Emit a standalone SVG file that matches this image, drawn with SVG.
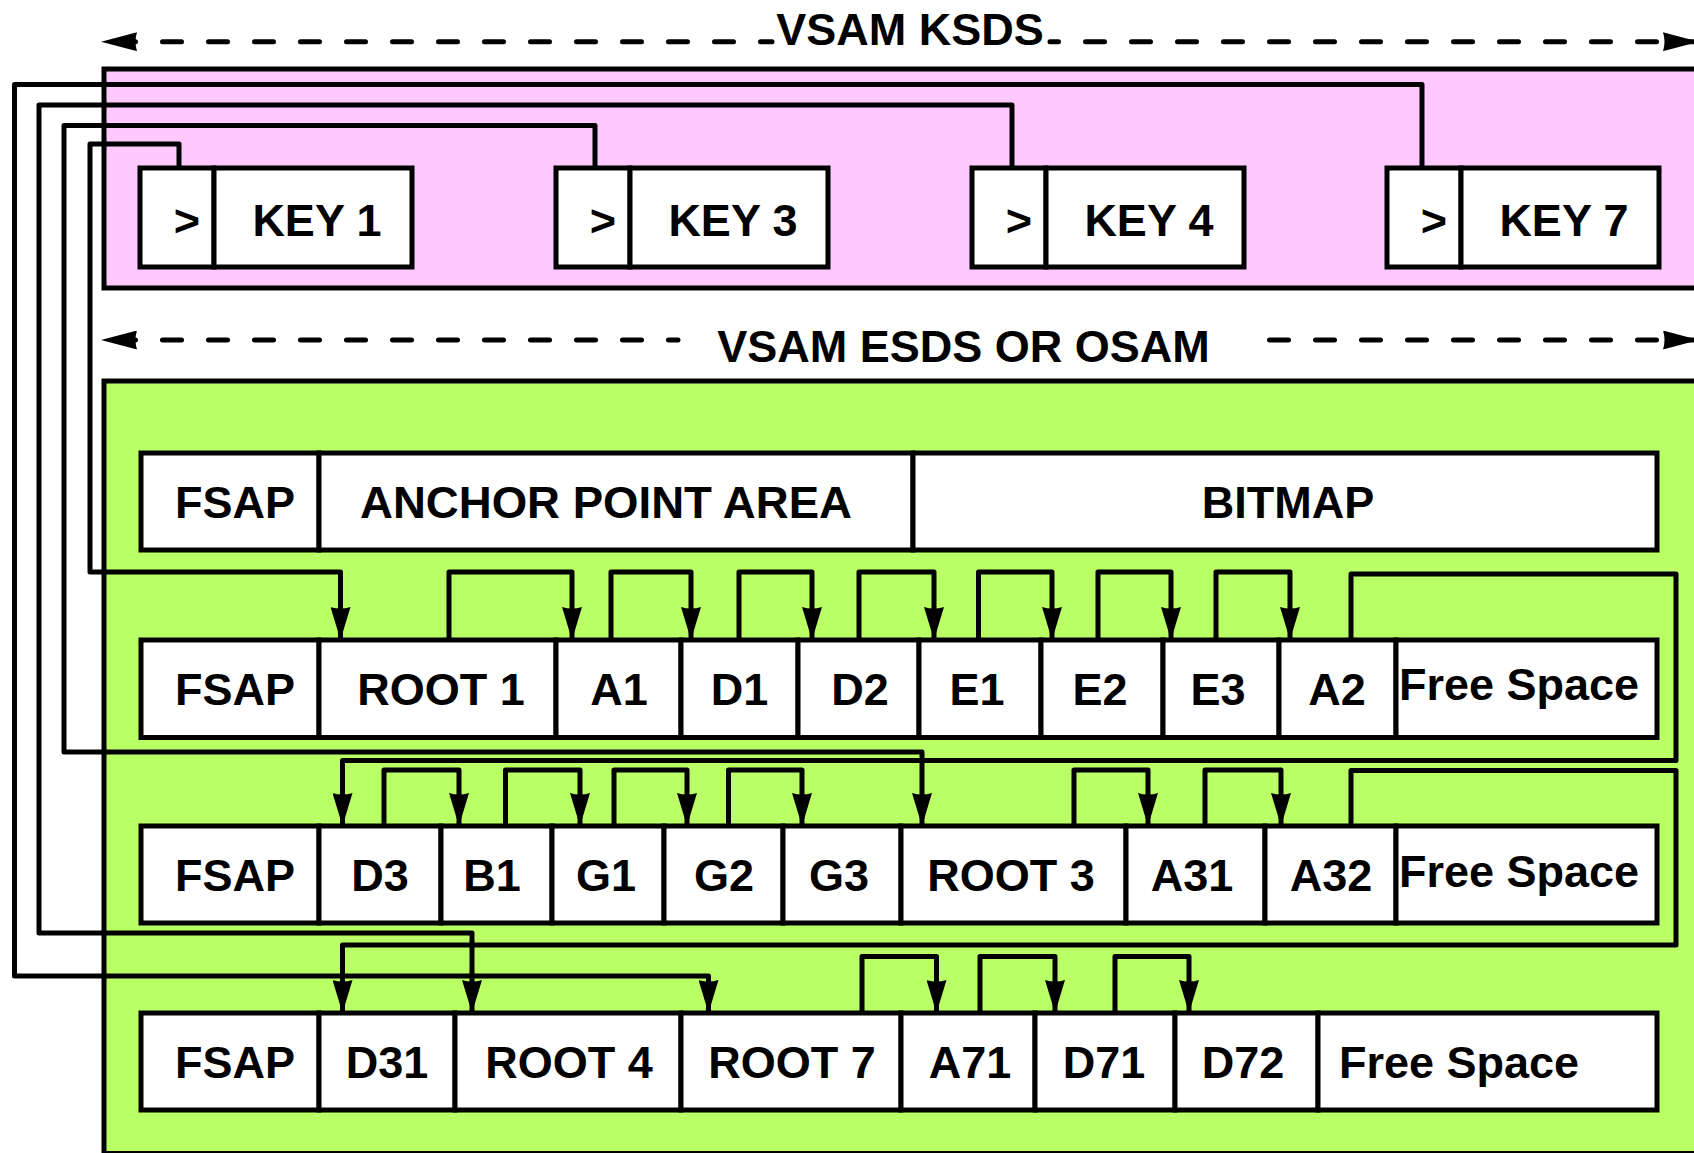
<svg xmlns="http://www.w3.org/2000/svg" width="1694" height="1153" viewBox="0 0 1694 1153">
<style>
.bg{fill:#ffffff}
.area{stroke:#000;stroke-width:5}
.pink{fill:#FFC8FF}
.green{fill:#BBFF66}
.cell{fill:#fff;stroke:#000;stroke-width:5}
.t{font-family:"Liberation Sans",Arial,Helvetica,sans-serif;font-weight:bold;font-size:45px;fill:#000;text-anchor:middle}
.ts{text-anchor:start}
.conn{fill:none;stroke:#000;stroke-width:5;stroke-linejoin:round;marker-end:url(#arr)}
.dash{fill:none;stroke:#000;stroke-width:5;stroke-linecap:round;stroke-dasharray:19 27;marker-start:url(#darr)}
</style>
<defs>
<marker id="arr" viewBox="0 0 33 20" refX="33" refY="10" markerWidth="33" markerHeight="20" markerUnits="userSpaceOnUse" orient="auto">
<path d="M0,0 L33,10 L0,20 Q3,10 0,0 Z" fill="#000" stroke="none"/>
</marker>
<marker id="darr" viewBox="0 0 36 19" refX="36" refY="9.5" markerWidth="36" markerHeight="19" markerUnits="userSpaceOnUse" orient="auto-start-reverse">
<path d="M0,0 L36,9.5 L0,19 Q3,9.5 0,0 Z" fill="#000" stroke="none"/>
</marker>
</defs>
<rect class="bg" x="0" y="0" width="1694" height="1153"/>

<g id="ksds-area">
<rect class="area pink" x="104" y="69" width="1620" height="219"/>
</g>
<g id="esds-area">
<rect class="area green" x="104" y="381" width="1620" height="772.5"/>
</g>

<g id="dimension-lines">
<path class="dash" d="M101,41.7 H772" stroke-dashoffset="-15.5"/>
<path class="dash" d="M1699,41.7 H1050" stroke-dashoffset="3.5"/>
<text class="t" x="910" y="45">VSAM KSDS</text>
<path class="dash" d="M101,340 H678" stroke-dashoffset="-15.5"/>
<path class="dash" d="M1699,340 H1265" stroke-dashoffset="3.5"/>
<text class="t" x="963.5" y="362">VSAM ESDS OR OSAM</text>
</g>

<g id="key1">
<rect class="cell" x="140" y="168" width="74" height="99"/>
<rect class="cell" x="214" y="168" width="198" height="99"/>
<text class="t" x="187" y="236">&gt;</text>
<text class="t" x="317" y="236">KEY 1</text>
</g>
<g id="key3">
<rect class="cell" x="556" y="168" width="74" height="99"/>
<rect class="cell" x="630" y="168" width="198" height="99"/>
<text class="t" x="603" y="236">&gt;</text>
<text class="t" x="733" y="236">KEY 3</text>
</g>
<g id="key4">
<rect class="cell" x="972" y="168" width="74" height="99"/>
<rect class="cell" x="1046" y="168" width="198" height="99"/>
<text class="t" x="1019" y="236">&gt;</text>
<text class="t" x="1149" y="236">KEY 4</text>
</g>
<g id="key7">
<rect class="cell" x="1387" y="168" width="74" height="99"/>
<rect class="cell" x="1461" y="168" width="198" height="99"/>
<text class="t" x="1434" y="236">&gt;</text>
<text class="t" x="1564" y="236">KEY 7</text>
</g>

<g id="row0">
<rect class="cell" x="141" y="453" width="178" height="97"/>
<rect class="cell" x="319" y="453" width="594" height="97"/>
<rect class="cell" x="913" y="453" width="744" height="97"/>
<text class="t" x="235" y="518">FSAP</text>
<text class="t" x="606" y="518" textLength="492" lengthAdjust="spacingAndGlyphs">ANCHOR POINT AREA</text>
<text class="t" x="1288" y="518">BITMAP</text>
</g>

<g id="row1">
<g id="r1-fsap"><rect class="cell" x="141" y="640" width="178" height="97.5"/><text class="t" x="235" y="705">FSAP</text></g>
<g id="r1-root1"><rect class="cell" x="319" y="640" width="237" height="97.5"/><text class="t" x="441" y="705">ROOT 1</text></g>
<g id="r1-a1"><rect class="cell" x="556" y="640" width="125" height="97.5"/><text class="t" x="619" y="705">A1</text></g>
<g id="r1-d1"><rect class="cell" x="681" y="640" width="117" height="97.5"/><text class="t" x="739.5" y="705">D1</text></g>
<g id="r1-d2"><rect class="cell" x="798" y="640" width="121" height="97.5"/><text class="t" x="860" y="705">D2</text></g>
<g id="r1-e1"><rect class="cell" x="919" y="640" width="122" height="97.5"/><text class="t" x="977" y="705">E1</text></g>
<g id="r1-e2"><rect class="cell" x="1041" y="640" width="122" height="97.5"/><text class="t" x="1100" y="705">E2</text></g>
<g id="r1-e3"><rect class="cell" x="1163" y="640" width="116" height="97.5"/><text class="t" x="1218" y="705">E3</text></g>
<g id="r1-a2"><rect class="cell" x="1279" y="640" width="117" height="97.5"/><text class="t" x="1337" y="705">A2</text></g>
<g id="r1-free"><rect class="cell" x="1396" y="640" width="261" height="97.5"/><text class="t ts" x="1399" y="700">Free Space</text></g>
</g>

<g id="row2">
<g id="r2-fsap"><rect class="cell" x="141" y="826" width="178" height="97"/><text class="t" x="235" y="891">FSAP</text></g>
<g id="r2-d3"><rect class="cell" x="319" y="826" width="122" height="97"/><text class="t" x="380" y="891">D3</text></g>
<g id="r2-b1"><rect class="cell" x="441" y="826" width="111" height="97"/><text class="t" x="492" y="891">B1</text></g>
<g id="r2-g1"><rect class="cell" x="552" y="826" width="112" height="97"/><text class="t" x="606" y="891">G1</text></g>
<g id="r2-g2"><rect class="cell" x="664" y="826" width="119" height="97"/><text class="t" x="724" y="891">G2</text></g>
<g id="r2-g3"><rect class="cell" x="783" y="826" width="118" height="97"/><text class="t" x="839" y="891">G3</text></g>
<g id="r2-root3"><rect class="cell" x="901" y="826" width="225" height="97"/><text class="t" x="1011" y="891">ROOT 3</text></g>
<g id="r2-a31"><rect class="cell" x="1126" y="826" width="139" height="97"/><text class="t" x="1192" y="891">A31</text></g>
<g id="r2-a32"><rect class="cell" x="1265" y="826" width="131" height="97"/><text class="t" x="1331" y="891">A32</text></g>
<g id="r2-free"><rect class="cell" x="1396" y="826" width="261" height="97"/><text class="t ts" x="1399" y="887">Free Space</text></g>
</g>

<g id="row3">
<g id="r3-fsap"><rect class="cell" x="141" y="1013" width="178" height="97"/><text class="t" x="235" y="1078">FSAP</text></g>
<g id="r3-d31"><rect class="cell" x="319" y="1013" width="136" height="97"/><text class="t" x="387" y="1078">D31</text></g>
<g id="r3-root4"><rect class="cell" x="455" y="1013" width="226" height="97"/><text class="t" x="569" y="1078">ROOT 4</text></g>
<g id="r3-root7"><rect class="cell" x="681" y="1013" width="220" height="97"/><text class="t" x="792" y="1078">ROOT 7</text></g>
<g id="r3-a71"><rect class="cell" x="901" y="1013" width="134" height="97"/><text class="t" x="970" y="1078">A71</text></g>
<g id="r3-d71"><rect class="cell" x="1035" y="1013" width="140" height="97"/><text class="t" x="1104" y="1078">D71</text></g>
<g id="r3-d72"><rect class="cell" x="1175" y="1013" width="143" height="97"/><text class="t" x="1243" y="1078">D72</text></g>
<g id="r3-free"><rect class="cell" x="1318" y="1013" width="339" height="97"/><text class="t ts" x="1339" y="1078">Free Space</text></g>
</g>

<g id="connectors">
<path class="conn" d="M179,168 V144 H90 V572 H340.5 V640"/>
<path class="conn" d="M595,168 V125.5 H64 V752 H922 V826"/>
<path class="conn" d="M1012,168 V105 H39 V933 H472 V1013"/>
<path class="conn" d="M1422,168 V84.5 H14.5 V976 H708.5 V1013"/>

<path class="conn" d="M449,640 V572 H572 V640"/>
<path class="conn" d="M611,640 V572 H691 V640"/>
<path class="conn" d="M739,640 V572 H812 V640"/>
<path class="conn" d="M859,640 V572 H934 V640"/>
<path class="conn" d="M978.5,640 V572 H1052 V640"/>
<path class="conn" d="M1098,640 V572 H1171 V640"/>
<path class="conn" d="M1216,640 V572 H1290 V640"/>
<path class="conn" d="M1351,640 V574 H1676 V760.5 H342.5 V826"/>

<path class="conn" d="M384,826 V770 H459 V826"/>
<path class="conn" d="M505.5,826 V770 H580 V826"/>
<path class="conn" d="M614,826 V770 H687 V826"/>
<path class="conn" d="M728.5,826 V770 H802 V826"/>
<path class="conn" d="M1074,826 V770 H1148 V826"/>
<path class="conn" d="M1205,826 V770 H1281 V826"/>
<path class="conn" d="M1351,826 V770.5 H1676 V945 H342.5 V1013"/>

<path class="conn" d="M862,1013 V956.5 H936.5 V1013"/>
<path class="conn" d="M980,1013 V956.5 H1055 V1013"/>
<path class="conn" d="M1115,1013 V956.5 H1189 V1013"/>
</g>
</svg>
